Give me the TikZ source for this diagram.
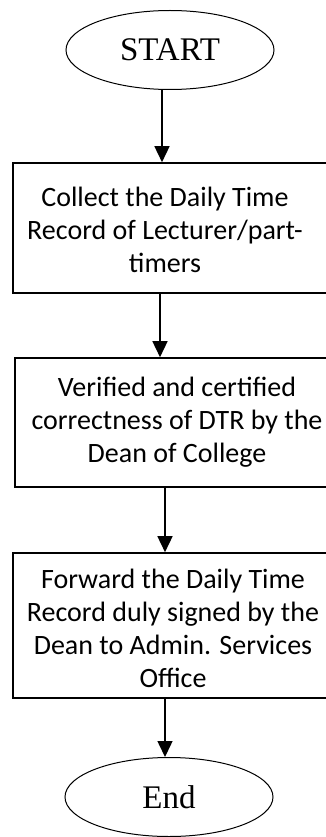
\documentclass[tikz,border=0pt]{standalone}
\usepackage{fontspec}
\setmainfont{Carlito}
\newfontfamily\timesf{Liberation Serif}
\usetikzlibrary{shapes.geometric,arrows.meta}
\begin{document}
\begin{tikzpicture}[x=1pt,y=-1pt,
  term/.style={draw,line width=1pt,ellipse,minimum width=208pt,minimum height=79pt,inner sep=0pt,font=\timesf\fontsize{33}{38}\selectfont},
  stepbox/.style={draw,line width=1.6pt,inner sep=0pt},
  btext/.style={align=center,inner sep=0pt,font=\fontsize{28}{33}\selectfont},
  flow/.style={line width=1.5pt,-{Triangle[length=16pt,width=15pt]}}]
\useasboundingbox (0,0) rectangle (326,837);
\clip (0,0) rectangle (326,837);
\node[term] (start) at (170,50) {START};
\node[stepbox,minimum width=320pt,minimum height=130pt] (b1) at (173,228) {};
\node[btext] (t1) at (165,230) {Collect the Daily Time\\Record of Lecturer/part-\\timers};
\node[stepbox,minimum width=318pt,minimum height=129pt] (b2) at (174,422.5) {};
\node[btext] (t2) at (177,422) {Verified and certified\\correctness of DTR by the\\Dean of College};
\node[stepbox,minimum width=320pt,minimum height=145pt] (b3) at (173,625.5) {};
\node[btext] (t3) at (173,628) {Forward the Daily Time\\Record duly signed by the\\Dean to Admin. Services\\Office};
\node[term] (end) at (169,797) {End};
\draw[flow] (start.south -| 162,0) -- (b1.north -| 162,0);
\draw[flow] (b1.south -| 160,0) -- (b2.north -| 160,0);
\draw[flow] (b2.south -| 165,0) -- (b3.north -| 165,0);
\draw[flow] (b3.south -| 165,0) -- (end.north -| 165,0);
\end{tikzpicture}
\end{document}
